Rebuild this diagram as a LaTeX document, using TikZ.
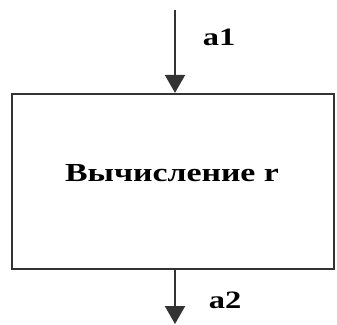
\documentclass[tikz,border=0pt]{standalone}
\usepackage{fontspec}
\setmainfont{Liberation Serif}
\usetikzlibrary{arrows.meta,positioning}

\begin{document}
\begin{tikzpicture}[x=1pt,y=-1pt,
                    block/.style={draw=black!80,line width=2.2pt,minimum width=322pt,minimum height=175pt,inner sep=0pt},
                    flow/.style={draw=black!80,line width=2pt,-{Triangle[width=20pt,length=18pt]}},
                    tag/.style={font=\bfseries\fontsize{25}{25}\selectfont,xscale=1.3,inner sep=0pt}]

  \useasboundingbox (0,0) rectangle (337,324);

  \node[block] (calc) at (173,181.5) {};
  \node[tag,font=\bfseries\fontsize{26}{26}\selectfont] (title) at (172,173) {Вычисление r};

  \coordinate (in) at (175,10);
  \coordinate (out) at (175,324);

  \draw[flow] (in) -- (in |- calc.north);
  \draw[flow] (calc.south -| out) -- (out);

  \node[tag] (a1) at (219,37) {a1};
  \node[tag] (a2) at (225,300) {a2};

\end{tikzpicture}
\end{document}
